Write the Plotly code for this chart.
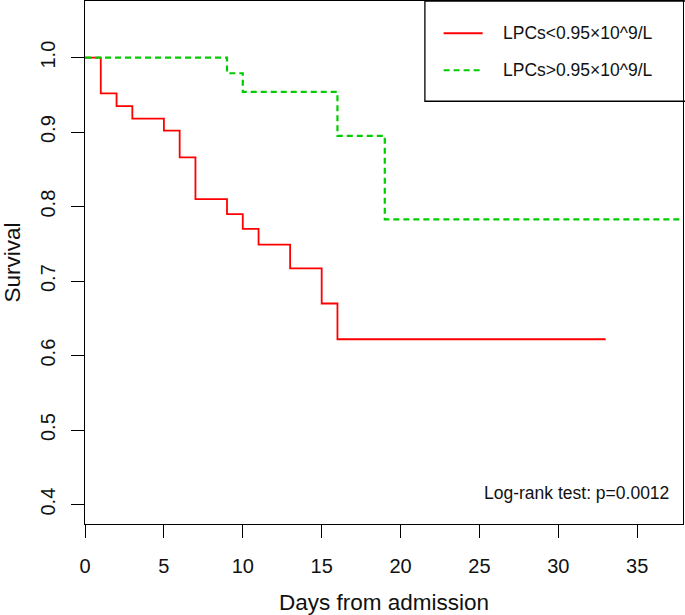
import plotly.graph_objects as go

# ---- data ----
series_names = ["LPCs<0.95×10^9/L", "LPCs>0.95×10^9/L"]
red_times = [0, 1, 2, 3, 5, 6, 7, 9, 10, 11, 13, 15, 16, 33]
red_surv = [1.0, 0.952, 0.935, 0.918, 0.902, 0.866, 0.810, 0.790, 0.770, 0.749, 0.717, 0.670, 0.622, 0.622]
green_times = [0, 9, 10, 16, 19, 38]
green_surv = [1.0, 0.979, 0.954, 0.895, 0.783, 0.783]
x_ticks = [0, 5, 10, 15, 20, 25, 30, 35]
y_ticks = [0.4, 0.5, 0.6, 0.7, 0.8, 0.9, 1.0]
pvalue_text = "Log-rank test: p=0.0012"
x_title = "Days from admission"
y_title = "Survival"

RED = "#FF0000"
GREEN = "#00CD00"
FONT = "Liberation Sans, Arial, sans-serif"
INK = "#111111"

fig = go.Figure()
fig.add_trace(go.Scatter(x=red_times, y=red_surv, mode="lines", line_shape="hv",
                         line=dict(color=RED, width=1.8), name=series_names[0],
                         showlegend=False))
fig.add_trace(go.Scatter(x=green_times, y=green_surv, mode="lines", line_shape="hv",
                         line=dict(color=GREEN, width=2.2, dash="6px,4px"),
                         name=series_names[1], showlegend=False))

axis_common = dict(showline=True, linecolor="#000", linewidth=1.3, mirror=True,
                   ticks="outside", ticklen=13, tickwidth=1.3, tickcolor="#000",
                   showgrid=False, zeroline=False,
                   tickfont=dict(family=FONT, size=20, color=INK))

fig.update_xaxes(range=[0, 37.9], tickvals=x_ticks, ticklabelstandoff=11,
                 title=dict(text=x_title, font=dict(family=FONT, size=22.5, color=INK), standoff=18),
                 **axis_common)
fig.update_yaxes(range=[0.374, 1.076], tickvals=y_ticks, tickformat=".1f", tickangle=-90,
                 ticklabelstandoff=8,
                 title=dict(text=y_title, font=dict(family=FONT, size=22.5, color=INK), standoff=16),
                 **axis_common)

# legend box drawn manually (R-style legend anchored top-right)
leg_x0, leg_y0 = 0.5684, 0.8083
fig.add_shape(type="rect", xref="paper", yref="paper", x0=leg_x0, x1=1.2, y0=leg_y0, y1=1.0,
              line=dict(color="#000", width=1.3), fillcolor="rgba(0,0,0,0)")
leg_rows = [(0.9383, RED, "solid", 1.8), (0.8676, GREEN, "6px,4px", 2.2)]
for (yy, col, dash, w), name in zip(leg_rows, series_names):
    fig.add_shape(type="line", xref="paper", yref="paper", x0=0.5997, x1=0.665, y0=yy, y1=yy,
                  line=dict(color=col, width=w, dash=dash))
    fig.add_annotation(xref="paper", yref="paper", x=0.6962, y=yy, text=name, showarrow=False,
                       xanchor="left", yanchor="middle",
                       font=dict(family=FONT, size=17.5, color=INK))

fig.add_annotation(xref="paper", yref="paper", x=0.98, y=0.0592, text=pvalue_text,
                   showarrow=False, xanchor="right", yanchor="middle",
                   font=dict(family=FONT, size=17.5, color=INK))

fig.update_layout(width=685, height=615, margin=dict(l=85, r=2, t=1, b=91),
                  plot_bgcolor="white", paper_bgcolor="white", showlegend=False)

fig.write_html("out.html", config={"displayModeBar": False},
               post_script="document.body.style.margin='0';document.body.style.overflow='hidden';")
